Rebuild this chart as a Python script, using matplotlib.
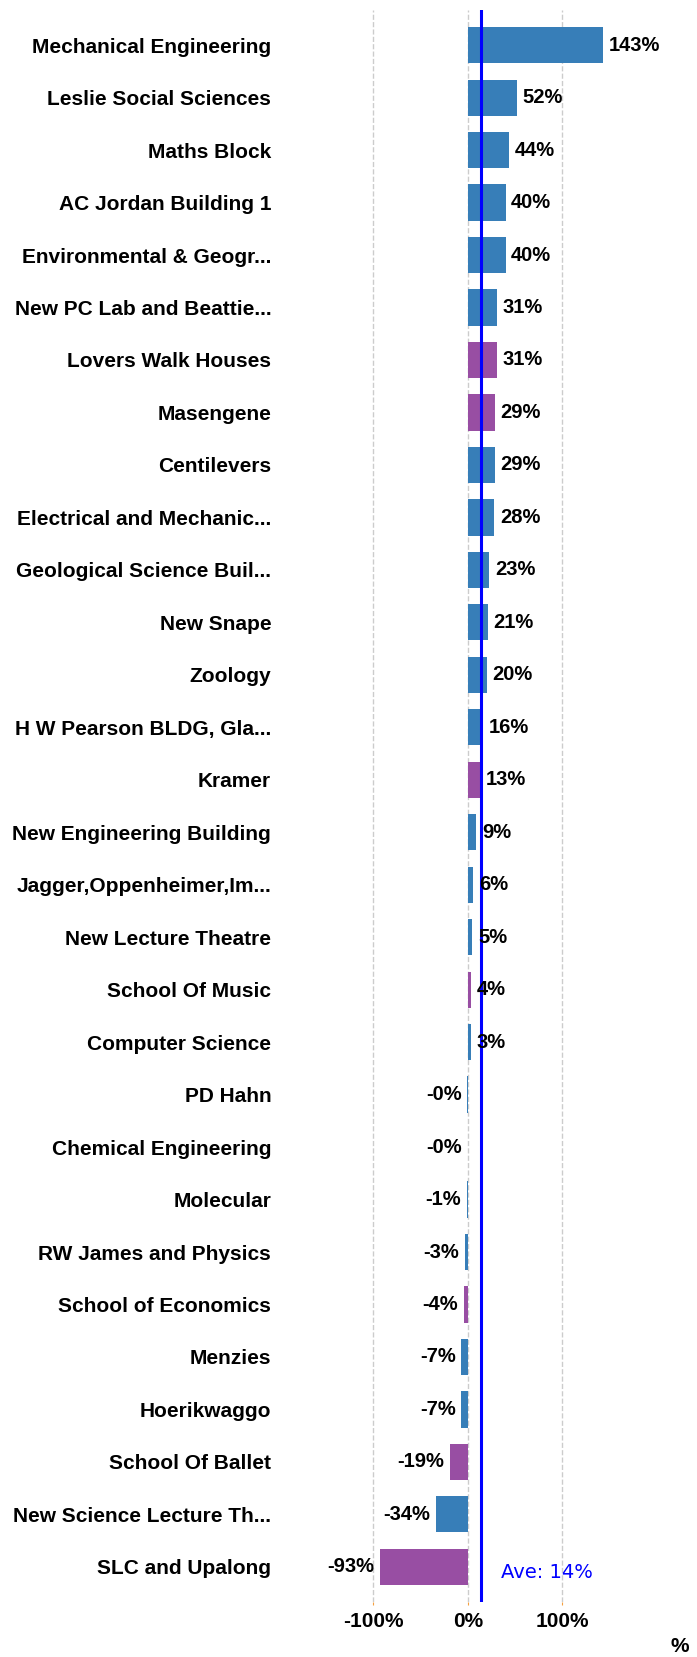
import matplotlib
matplotlib.use("Agg")
import matplotlib.pyplot as plt

categories = [
    "Mechanical Engineering", "Leslie Social Sciences", "Maths Block", "AC Jordan Building 1",
    "Environmental & Geogr...", "New PC Lab and Beattie...", "Lovers Walk Houses", "Masengene",
    "Centilevers", "Electrical and Mechanic...", "Geological Science Buil...", "New Snape",
    "Zoology", "H W Pearson BLDG, Gla...", "Kramer", "New Engineering Building",
    "Jagger,Oppenheimer,Im...", "New Lecture Theatre", "School Of Music", "Computer Science",
    "PD Hahn", "Chemical Engineering", "Molecular", "RW James and Physics",
    "School of Economics", "Menzies", "Hoerikwaggo", "School Of Ballet",
    "New Science Lecture Th...", "SLC and Upalong",
]
values = [143, 52, 44, 40, 40, 31, 31, 29, 29, 28, 23, 21, 20, 16, 13, 9, 6, 5, 4, 3,
          -0.3, -0.2, -1, -3, -4, -7, -7, -19, -34, -93]
groups = ["a", "a", "a", "a", "a", "a", "b", "b", "a", "a", "a", "a", "a", "a", "b", "a",
          "a", "a", "b", "a", "a", "a", "a", "a", "b", "a", "a", "b", "a", "b"]
average = 14
x_ticks = [-100, 0, 100]
x_tick_labels = ["-100%", "0%", "100%"]

color_map = {"a": "#377eb8", "b": "#984ea3"}
FONT = "Liberation Sans"

fig = plt.figure(figsize=(6.97, 16.57), dpi=100)
ax = fig.add_axes([316.2 / 697, 55 / 1657, 340.9 / 697, 1592 / 1657])

ypos = list(range(len(categories)))
ax.barh(ypos, values, height=0.69, color=[color_map[g] for g in groups], zorder=2)

for y, v in zip(ypos, values):
    txt = f"{v:.0f}%"
    if v >= 0:
        ax.annotate(txt, (v, y), xytext=(4, 0), textcoords="offset points",
                    ha="left", va="center", fontsize=14.5, fontweight="bold",
                    family=FONT, zorder=4)
    else:
        ax.annotate(txt, (v, y), xytext=(-4, 0), textcoords="offset points",
                    ha="right", va="center", fontsize=14.5, fontweight="bold",
                    family=FONT, zorder=4)

ax.axvline(average, color="#0000ff", lw=2.2, zorder=3)
ax.annotate(f"Ave: {average}%", (average, 29.1), xytext=(14.4, 0), textcoords="offset points",
            color="#0000ff", fontsize=14, family="DejaVu Sans", va="center", ha="left")

ax.set_xlim(-160, 200)
ax.set_ylim(len(categories) - 1 + 0.67, -0.67)
ax.set_yticks(ypos)
ax.set_yticklabels(categories, fontsize=15, fontweight="bold", family=FONT)
ax.tick_params(axis="y", length=0, pad=32.4)
ax.set_xticks(x_ticks)
ax.set_xticklabels(x_tick_labels, fontsize=15, fontweight="bold", family=FONT)
ax.tick_params(axis="x", length=2, color="#f5a040", pad=5)
ax.grid(axis="x", color="#cccccc", linestyle="--", lw=1, zorder=0)
for s in ax.spines.values():
    s.set_visible(False)

fig.text(680 / 697, 1 - 1647 / 1657, "%", fontsize=15, fontweight="bold",
         family=FONT, ha="center", va="center")

fig.savefig("out.png", dpi=100)
